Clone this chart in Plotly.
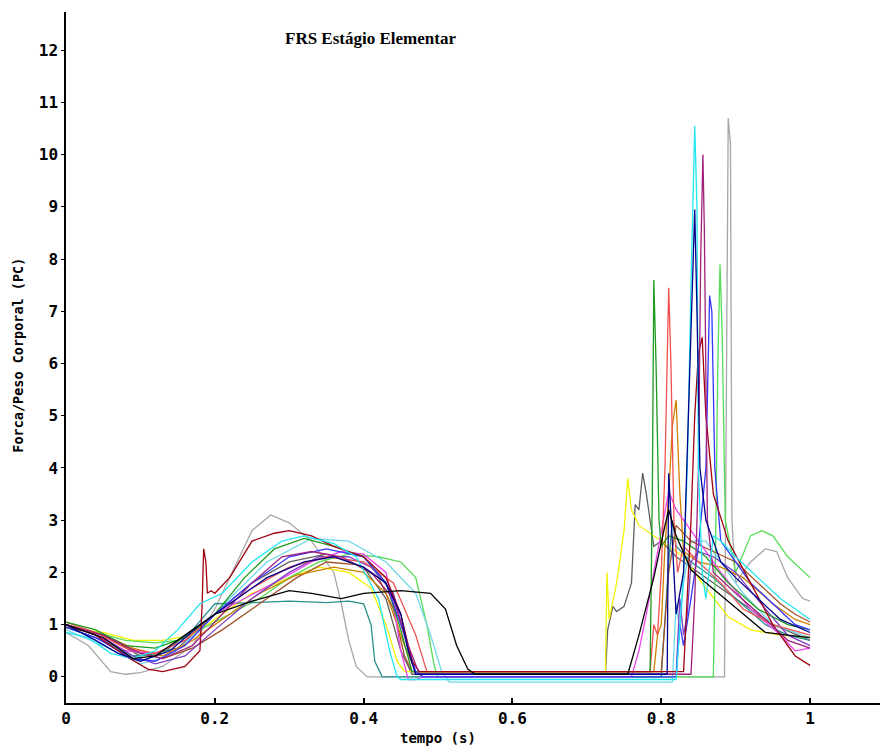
import plotly.graph_objects as go

# ---- data: keypoints (time s, force/body weight) ----
t_gray = [0, 0.03, 0.06, 0.08, 0.1, 0.13, 0.17, 0.2, 0.23, 0.25, 0.275, 0.3, 0.33, 0.36, 0.37, 0.38, 0.39, 0.405, 0.885, 0.886, 0.888, 0.89, 0.893, 0.895, 0.9, 0.92, 0.94, 0.955, 0.97, 0.99, 1.0]
f_gray = [0.85, 0.6, 0.1, 0.05, 0.08, 0.2, 0.6, 1.3, 2.2, 2.8, 3.1, 2.95, 2.6, 2.0, 1.4, 0.7, 0.2, 0.0, 0.0, 2.0, 7.9, 10.7, 10.2, 3.0, 1.8, 2.2, 2.45, 2.4, 1.9, 1.5, 1.45]

t_dgray = [0, 0.05, 0.1, 0.15, 0.2, 0.25, 0.3, 0.35, 0.4, 0.43, 0.45, 0.465, 0.725, 0.728, 0.735, 0.74, 0.75, 0.76, 0.765, 0.77, 0.775, 0.78, 0.79, 0.8, 0.82, 0.85, 0.9, 0.95, 1.0]
f_dgray = [1.0, 0.8, 0.4, 0.55, 1.2, 1.8, 2.2, 2.35, 2.1, 1.5, 0.5, 0.05, 0.05, 0.9, 1.35, 1.25, 1.35, 1.8, 3.3, 3.2, 3.9, 3.5, 2.5, 2.6, 2.3, 2.0, 1.5, 1.0, 0.7]

t_yellow = [0, 0.05, 0.09, 0.13, 0.17, 0.2, 0.25, 0.3, 0.34, 0.38, 0.41, 0.43, 0.445, 0.455, 0.725, 0.727, 0.73, 0.74, 0.75, 0.755, 0.76, 0.77, 0.8, 0.83, 0.86, 0.89, 0.92, 0.96, 1.0]
f_yellow = [0.95, 0.85, 0.7, 0.7, 0.8, 1.1, 1.6, 1.9, 2.1, 2.0, 1.7, 1.0, 0.3, 0.1, 0.1, 2.0, 1.1, 1.8, 2.8, 3.8, 3.2, 2.9, 2.6, 2.3, 1.7, 1.15, 0.9, 0.8, 0.75]

t_black = [0, 0.05, 0.09, 0.12, 0.16, 0.2, 0.25, 0.3, 0.33, 0.37, 0.4, 0.45, 0.49, 0.51, 0.525, 0.54, 0.55, 0.755, 0.77, 0.79, 0.805, 0.81, 0.82, 0.84, 0.86, 0.885, 0.91, 0.94, 0.97, 1.0]
f_black = [1.0, 0.75, 0.35, 0.4, 0.8, 1.2, 1.45, 1.65, 1.6, 1.5, 1.6, 1.65, 1.6, 1.3, 0.6, 0.15, 0.05, 0.05, 0.8, 1.9, 2.9, 3.2, 2.7, 2.05, 1.8, 1.5, 1.2, 0.85, 0.8, 0.75]

t_navy = [0, 0.04, 0.07, 0.1, 0.14, 0.18, 0.22, 0.27, 0.32, 0.36, 0.4, 0.43, 0.45, 0.46, 0.47, 0.808, 0.81, 0.815, 0.82, 0.83, 0.84, 0.845, 0.848, 0.852, 0.86, 0.88, 0.9, 0.93, 0.96, 1.0]
f_navy = [1.0, 0.7, 0.45, 0.3, 0.5, 1.0, 1.4, 1.9, 2.2, 2.3, 2.1, 1.8, 1.2, 0.5, 0.05, 0.05, 3.9, 2.5, 1.2, 2.0, 6.9, 8.95, 7.0, 4.0, 3.0, 2.2, 1.9, 1.5, 1.1, 0.85]

t_blue = [0, 0.04, 0.09, 0.12, 0.16, 0.2, 0.25, 0.3, 0.35, 0.4, 0.43, 0.455, 0.47, 0.48, 0.82, 0.822, 0.825, 0.83, 0.84, 0.85, 0.86, 0.865, 0.868, 0.872, 0.88, 0.9, 0.92, 0.95, 0.98, 1.0]
f_blue = [0.95, 0.75, 0.35, 0.3, 0.6, 1.2, 1.8, 2.3, 2.45, 2.3, 1.8, 0.8, 0.1, 0.0, 0.0, 0.5, 1.0, 0.6, 1.5, 2.5, 4.0, 7.3, 7.0, 4.0, 2.6, 2.2, 1.8, 1.4, 1.0, 0.9]

t_cyan = [0, 0.03, 0.06, 0.09, 0.12, 0.15, 0.18, 0.21, 0.25, 0.29, 0.32, 0.36, 0.39, 0.42, 0.435, 0.445, 0.45, 0.82, 0.83, 0.835, 0.84, 0.845, 0.848, 0.85, 0.855, 0.86, 0.87, 0.88, 0.9, 0.93, 0.96, 1.0]
f_cyan = [0.85, 0.75, 0.45, 0.35, 0.5, 0.9, 1.4, 1.6, 2.2, 2.6, 2.7, 2.55, 2.3, 1.5, 0.5, 0.0, -0.05, -0.05, 2.0, 4.0, 7.5, 10.55, 9.0, 4.0, 2.0, 1.5, 2.7, 2.6, 2.3, 1.9, 1.5, 1.1]

t_lcyan = [0, 0.05, 0.1, 0.14, 0.18, 0.22, 0.27, 0.33, 0.38, 0.43, 0.47, 0.49, 0.505, 0.515, 0.815, 0.818, 0.82, 0.825, 0.83, 0.84, 0.86, 0.88, 0.91, 0.95, 1.0]
f_lcyan = [0.9, 0.6, 0.25, 0.4, 0.9, 1.5, 2.2, 2.65, 2.6, 2.2, 1.6, 0.8, 0.1, -0.1, -0.1, 1.0, 1.4, 0.9, 1.8, 2.6, 2.6, 2.2, 1.6, 1.0, 0.75]

t_teal = [0, 0.05, 0.09, 0.13, 0.17, 0.2, 0.25, 0.3, 0.35, 0.38, 0.4, 0.41, 0.415, 0.425, 0.8, 0.805, 0.81, 0.815, 0.82, 0.84, 0.87, 0.9, 0.94, 0.97, 1.0]
f_teal = [0.95, 0.7, 0.4, 0.45, 0.9, 1.4, 1.42, 1.45, 1.42, 1.45, 1.4, 1.0, 0.3, 0.0, 0.0, 1.2, 2.2, 3.0, 2.5, 2.2, 1.9, 1.5, 1.0, 0.8, 0.7]

t_dred = [0, 0.04, 0.08, 0.11, 0.13, 0.16, 0.18, 0.183, 0.185, 0.188, 0.19, 0.195, 0.2, 0.22, 0.25, 0.28, 0.3, 0.33, 0.36, 0.4, 0.43, 0.45, 0.465, 0.475, 0.83, 0.835, 0.84, 0.845, 0.85, 0.855, 0.86, 0.87, 0.89, 0.92, 0.95, 0.98, 1.0]
f_dred = [1.0, 0.8, 0.4, 0.15, 0.1, 0.2, 0.5, 1.4, 2.45, 2.2, 1.6, 1.65, 1.6, 1.9, 2.6, 2.75, 2.8, 2.7, 2.5, 2.3, 1.9, 1.2, 0.3, 0.1, 0.1, 1.5, 3.0, 5.0, 6.2, 6.5, 5.0, 3.5, 2.6, 1.8, 1.0, 0.4, 0.22]

t_purple = [0, 0.05, 0.1, 0.13, 0.17, 0.21, 0.25, 0.29, 0.33, 0.37, 0.41, 0.44, 0.46, 0.475, 0.84, 0.845, 0.85, 0.853, 0.856, 0.858, 0.862, 0.87, 0.9, 0.94, 0.97, 1.0]
f_purple = [1.0, 0.8, 0.45, 0.35, 0.6, 1.2, 1.8, 2.3, 2.4, 2.3, 2.0, 1.5, 0.6, 0.05, 0.05, 1.5, 4.0, 8.0, 10.0, 8.5, 3.0, 2.0, 1.6, 1.1, 0.7, 0.55]

t_salmon = [0, 0.04, 0.08, 0.12, 0.16, 0.2, 0.25, 0.3, 0.35, 0.4, 0.44, 0.47, 0.485, 0.785, 0.79, 0.795, 0.8, 0.805, 0.81, 0.813, 0.817, 0.822, 0.83, 0.85, 0.88, 0.91, 0.95, 1.0]
f_salmon = [1.05, 0.85, 0.55, 0.45, 0.7, 1.2, 1.7, 2.1, 2.3, 2.2, 1.8, 0.8, 0.1, 0.1, 1.0, 0.8, 2.0, 4.0, 7.45, 6.0, 3.0, 2.0, 2.5, 2.2, 1.8, 1.3, 1.0, 0.8]

t_orange = [0, 0.05, 0.09, 0.13, 0.17, 0.21, 0.26, 0.31, 0.36, 0.4, 0.43, 0.455, 0.47, 0.79, 0.795, 0.8, 0.805, 0.81, 0.815, 0.82, 0.825, 0.83, 0.85, 0.88, 0.91, 0.95, 0.98, 1.0]
f_orange = [1.0, 0.8, 0.55, 0.4, 0.7, 1.1, 1.6, 1.95, 2.1, 2.0, 1.6, 0.6, 0.1, 0.1, 0.8, 1.0, 2.5, 3.5, 4.8, 5.3, 3.5, 2.4, 2.2, 2.1, 1.9, 1.4, 1.1, 1.0]

t_green = [0, 0.04, 0.08, 0.12, 0.16, 0.2, 0.24, 0.28, 0.32, 0.36, 0.4, 0.43, 0.45, 0.465, 0.785, 0.788, 0.79, 0.793, 0.797, 0.8, 0.81, 0.83, 0.86, 0.89, 0.93, 0.97, 1.0]
f_green = [1.05, 0.9, 0.6, 0.55, 0.75, 1.2, 1.9, 2.45, 2.65, 2.5, 2.3, 1.8, 0.9, 0.1, 0.1, 3.5, 7.6, 6.0, 3.0, 2.5, 2.7, 2.6, 2.3, 1.8, 1.3, 1.0, 0.9]

t_lgreen = [0, 0.04, 0.08, 0.12, 0.15, 0.18, 0.22, 0.26, 0.3, 0.34, 0.38, 0.42, 0.45, 0.47, 0.485, 0.495, 0.5, 0.87, 0.873, 0.876, 0.879, 0.882, 0.886, 0.9, 0.92, 0.935, 0.95, 0.97, 1.0]
f_lgreen = [0.95, 0.85, 0.7, 0.65, 0.7, 0.9, 1.2, 1.5, 1.9, 2.2, 2.35, 2.3, 2.2, 1.9, 1.0, 0.2, 0.0, 0.0, 2.5, 6.0, 7.9, 6.5, 3.0, 2.0, 2.7, 2.8, 2.7, 2.3, 1.9]

t_magenta = [0, 0.04, 0.08, 0.12, 0.16, 0.2, 0.24, 0.28, 0.33, 0.37, 0.4, 0.43, 0.44, 0.45, 0.46, 0.47, 0.48, 0.76, 0.77, 0.78, 0.79, 0.8, 0.81, 0.82, 0.83, 0.85, 0.88, 0.92, 0.96, 0.98, 1.0]
f_magenta = [1.0, 0.8, 0.5, 0.45, 0.7, 1.2, 1.5, 1.8, 2.2, 2.4, 2.35, 2.0, 1.4, 0.5, -0.05, -0.05, 0.0, 0.0, 0.5, 1.2, 2.0, 2.8, 3.55, 3.2, 3.0, 2.6, 2.0, 1.3, 0.8, 0.5, 0.55]

t_violet = [0, 0.05, 0.09, 0.12, 0.16, 0.2, 0.25, 0.3, 0.34, 0.38, 0.41, 0.44, 0.46, 0.47, 0.82, 0.825, 0.83, 0.835, 0.84, 0.85, 0.87, 0.9, 0.94, 0.97, 1.0]
f_violet = [1.0, 0.75, 0.4, 0.25, 0.4, 0.9, 1.5, 2.0, 2.3, 2.3, 2.1, 1.6, 0.5, 0.05, 0.05, 1.5, 0.8, 1.2, 2.2, 2.4, 2.3, 2.0, 1.3, 0.8, 0.6]

t_brown = [0, 0.05, 0.09, 0.13, 0.17, 0.21, 0.26, 0.31, 0.35, 0.39, 0.42, 0.44, 0.455, 0.465, 0.8, 0.805, 0.81, 0.82, 0.84, 0.87, 0.9, 0.93, 0.96, 0.98, 1.0]
f_brown = [0.95, 0.8, 0.5, 0.35, 0.55, 0.9, 1.4, 1.9, 2.2, 2.15, 1.9, 1.3, 0.4, 0.1, 0.1, 1.0, 2.0, 2.9, 2.6, 2.4, 2.2, 1.8, 1.4, 1.2, 1.05]

series = [
    ("gray", t_gray, f_gray, "#a6a6a6"),
    ("dgray", t_dgray, f_dgray, "#606060"),
    ("yellow", t_yellow, f_yellow, "#f2f200"),
    ("lgreen", t_lgreen, f_lgreen, "#55dd55"),
    ("lcyan", t_lcyan, f_lcyan, "#6fd8e8"),
    ("teal", t_teal, f_teal, "#2a9090"),
    ("brown", t_brown, f_brown, "#a0522d"),
    ("orange", t_orange, f_orange, "#d08000"),
    ("magenta", t_magenta, f_magenta, "#ee44ee"),
    ("violet", t_violet, f_violet, "#7b3fc4"),
    ("salmon", t_salmon, f_salmon, "#f05050"),
    ("green", t_green, f_green, "#1e9a1e"),
    ("blue", t_blue, f_blue, "#3535ff"),
    ("dred", t_dred, f_dred, "#a00010"),
    ("purple", t_purple, f_purple, "#a0207a"),
    ("cyan", t_cyan, f_cyan, "#22e6f0"),
    ("navy", t_navy, f_navy, "#00008c"),
    ("black", t_black, f_black, "#000000"),
]

x_ticks = [0, 0.2, 0.4, 0.6, 0.8, 1.0]
x_tick_labels = ["0", "0.2", "0.4", "0.6", "0.8", "1"]
y_ticks = list(range(0, 13))

fig = go.Figure()
for name, t, f, c in series:
    fig.add_trace(go.Scatter(x=t, y=f, mode="lines", name=name,
                             line=dict(color=c, width=1.3), showlegend=False,
                             hoverinfo="skip"))

tick_font = dict(family="DejaVu Sans Mono", size=16, color="black", weight="bold")

fig.update_layout(
    width=885, height=747,
    margin=dict(l=66, r=5, t=12, b=44),
    paper_bgcolor="white", plot_bgcolor="white",
    xaxis=dict(range=[0, 1.094], showgrid=False, zeroline=False,
               showline=True, linecolor="black", linewidth=2,
               tickmode="array", tickvals=x_ticks, ticktext=x_tick_labels,
               ticks="inside", ticklen=5, tickcolor="black", tickwidth=1.5,
               tickfont=tick_font),
    yaxis=dict(range=[-0.5, 12.73], showgrid=False, zeroline=False,
               showline=True, linecolor="black", linewidth=1.5,
               tickmode="array", tickvals=y_ticks,
               ticks="outside", ticklen=3, tickcolor="black",
               tickfont=tick_font),
    annotations=[
        dict(text="FRS Estágio Elementar", xref="paper", yref="paper",
             x=0.3735, y=0.961, xanchor="center", yanchor="middle",
             showarrow=False,
             font=dict(family="Liberation Serif", size=17, color="black", weight="bold")),
        dict(text="tempo (s)", xref="paper", yref="paper",
             x=0.457, y=-0.036, xanchor="center", yanchor="top", showarrow=False,
             font=dict(family="DejaVu Sans Mono", size=14, color="black", weight="bold")),
        dict(text="Forca/Peso Corporal (PC)", xref="paper", yref="paper",
             x=-0.059, y=0.504, xanchor="center", yanchor="middle",
             textangle=-90, showarrow=False,
             font=dict(family="DejaVu Sans Mono", size=13.5, color="black", weight="bold")),
    ],
)

fig.write_html("out.html")
